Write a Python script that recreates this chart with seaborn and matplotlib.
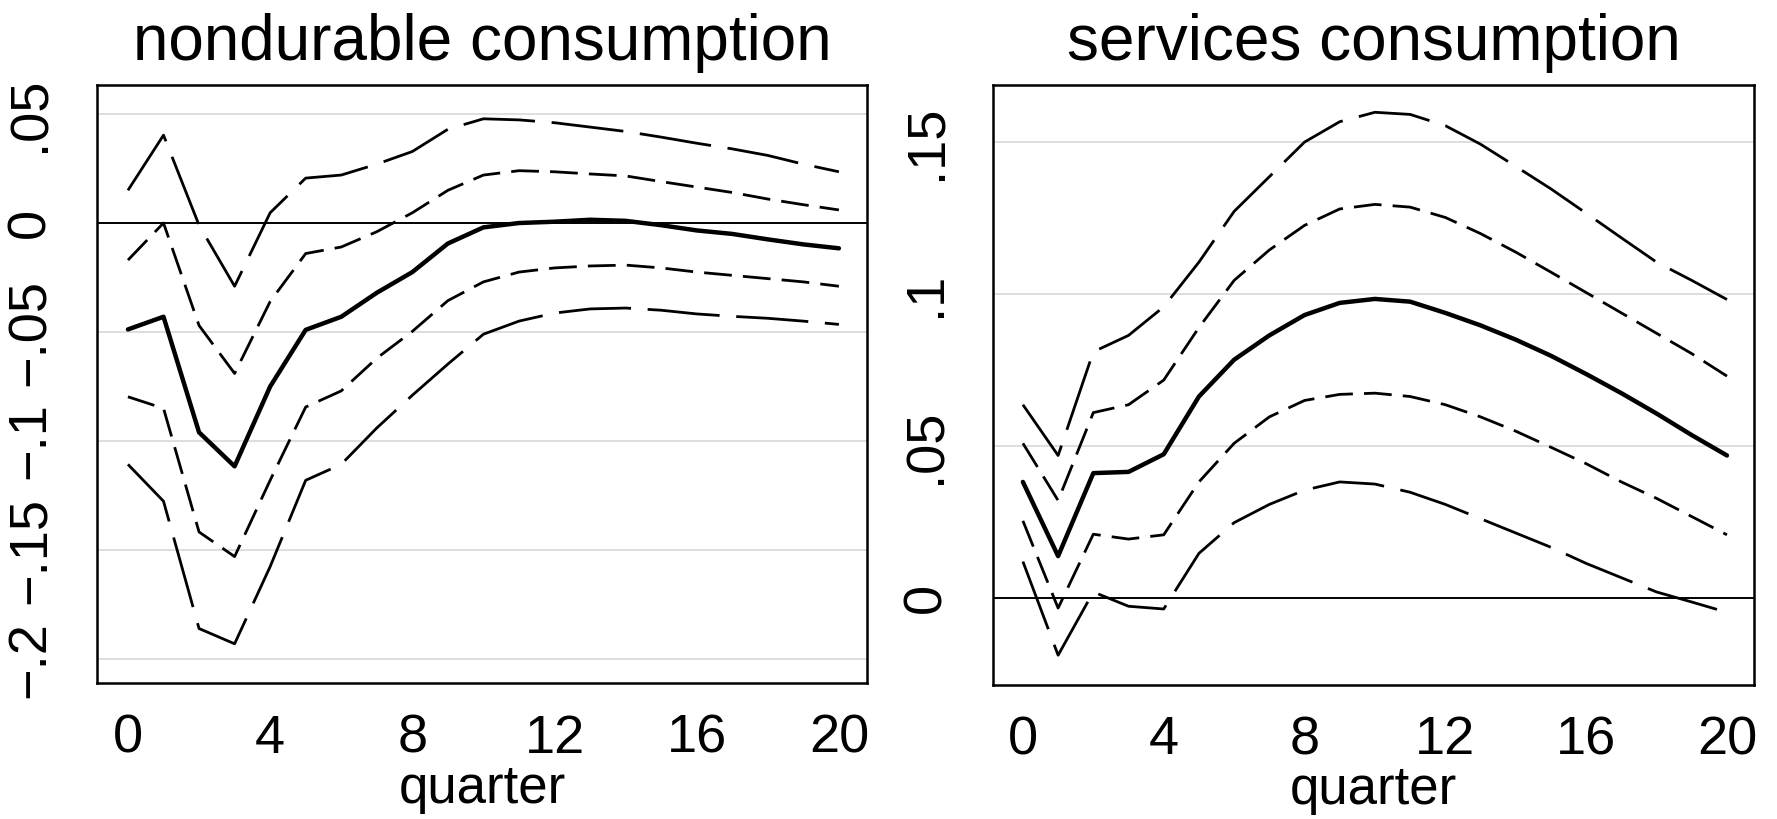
import numpy as np
import pandas as pd
import matplotlib
matplotlib.use("Agg")
import matplotlib.pyplot as plt
import seaborn as sns

sns.set_style("white")
plt.rcParams['font.family'] = ['Liberation Sans', 'DejaVu Sans']
plt.rcParams['text.color'] = 'black'
plt.rcParams['axes.labelcolor'] = 'black'
plt.rcParams['xtick.color'] = 'black'
plt.rcParams['ytick.color'] = 'black'

quarter = list(range(21))

# nondurable consumption: point estimate and two bands
nd_irf = [-0.0488, -0.043, -0.096, -0.1116, -0.075, -0.049, -0.043, -0.032, -0.0225, -0.0094,
          -0.002, 0.0, 0.0006, 0.0015, 0.001, -0.001, -0.0034, -0.005, -0.0075, -0.0098, -0.0116]
nd_in_hi = [-0.017, 0.0, -0.047, -0.069, -0.036, -0.014, -0.011, -0.004, 0.0047, 0.015,
            0.022, 0.024, 0.0235, 0.0225, 0.0216, 0.019, 0.0165, 0.014, 0.011, 0.0084, 0.006]
nd_in_lo = [-0.0797, -0.085, -0.1417, -0.153, -0.118, -0.0844, -0.077, -0.062, -0.0497, -0.0356,
            -0.027, -0.0225, -0.0206, -0.0197, -0.0193, -0.0206, -0.0225, -0.024, -0.0255, -0.027, -0.029]
nd_out_hi = [0.015, 0.0403, -0.001, -0.029, 0.0047, 0.0206, 0.022, 0.027, 0.0328, 0.043,
             0.0478, 0.0473, 0.046, 0.044, 0.042, 0.0394, 0.0366, 0.034, 0.031, 0.027, 0.0235]
nd_out_lo = [-0.1107, -0.1276, -0.186, -0.193, -0.1576, -0.118, -0.1107, -0.094, -0.079, -0.0647,
             -0.051, -0.045, -0.0413, -0.0394, -0.039, -0.040, -0.0417, -0.0428, -0.0437, -0.045, -0.0465]

# services consumption
sv_irf = [0.0382, 0.0138, 0.0411, 0.0415, 0.0473, 0.0663, 0.0784, 0.0864, 0.0931, 0.0971,
          0.0984, 0.0975, 0.0938, 0.0897, 0.085, 0.0797, 0.0737, 0.0674, 0.0607, 0.0536, 0.0469]
sv_in_hi = [0.0509, 0.0321, 0.061, 0.0636, 0.0717, 0.089, 0.1045, 0.1145, 0.1226, 0.128,
            0.1295, 0.1286, 0.1252, 0.1199, 0.1138, 0.1072, 0.1005, 0.0938, 0.0871, 0.0804, 0.073]
sv_in_lo = [0.0254, -0.0033, 0.021, 0.0194, 0.0208, 0.0382, 0.0509, 0.0596, 0.065, 0.067,
            0.0674, 0.0663, 0.0636, 0.0596, 0.0549, 0.0496, 0.0442, 0.0382, 0.0328, 0.0268, 0.0208]
sv_out_hi = [0.0636, 0.0469, 0.081, 0.0864, 0.0958, 0.1105, 0.1272, 0.1386, 0.15, 0.1567,
             0.1598, 0.1591, 0.1554, 0.1493, 0.142, 0.1346, 0.1266, 0.1185, 0.1105, 0.1045, 0.0982]
sv_out_lo = [0.012, -0.0188, 0.002, -0.0027, -0.0036, 0.0147, 0.0248, 0.0308, 0.0355, 0.0382,
             0.0375, 0.0348, 0.0308, 0.0261, 0.0214, 0.0167, 0.0114, 0.0067, 0.002, -0.0013, -0.0047]

nd_ticks = [-0.2, -0.15, -0.1, -0.05, 0, 0.05]
nd_labels = ["\u2212.2", "\u2212.15", "\u2212.1", "\u2212.05", "0", ".05"]
sv_ticks = [0, 0.05, 0.1, 0.15]
sv_labels = ["0", ".05", ".1", ".15"]
x_ticks = [0, 4, 8, 12, 16, 20]


def long_frame(irf, in_hi, in_lo, out_hi, out_lo):
    parts = []
    for name, vals in [("irf", irf), ("in_hi", in_hi), ("in_lo", in_lo),
                       ("out_hi", out_hi), ("out_lo", out_lo)]:
        parts.append(pd.DataFrame({"quarter": quarter, "value": vals, "band": name}))
    return pd.concat(parts, ignore_index=True)


dashes = {"irf": "", "in_hi": (10, 4), "in_lo": (10, 4), "out_hi": (26, 6), "out_lo": (26, 6)}
sizes = {"irf": 3.2, "in_hi": 2.0, "in_lo": 2.0, "out_hi": 2.0, "out_lo": 2.0}

fig = plt.figure(figsize=(17.77, 8.19), dpi=100)
ax1 = fig.add_axes([0.0546, 0.1660, 0.4333, 0.7302])
ax2 = fig.add_axes([0.5588, 0.1640, 0.4283, 0.7323])

panels = [
    (ax1, long_frame(nd_irf, nd_in_hi, nd_in_lo, nd_out_hi, nd_out_lo), "nondurable consumption",
     nd_ticks, nd_labels, (-0.211, 0.0633), (-0.87, 20.79)),
    (ax2, long_frame(sv_irf, sv_in_hi, sv_in_lo, sv_out_hi, sv_out_lo), "services consumption",
     sv_ticks, sv_labels, (-0.0285, 0.1688), (-0.85, 20.77)),
]

for ax, df, title, yt, yl, ylim, xlim in panels:
    for t in yt:
        if t != 0:
            ax.axhline(t, color="#dedede", lw=1.4, zorder=0)
    ax.axhline(0, color="black", lw=1.4, zorder=1)
    sns.lineplot(data=df, x="quarter", y="value", style="band", size="band",
                 dashes=dashes, sizes=sizes, color="black", legend=False,
                 estimator=None, ax=ax, zorder=2)
    ax.set_xlim(*xlim)
    ax.set_ylim(*ylim)
    ax.set_xticks(x_ticks)
    ax.set_xticklabels([str(t) for t in x_ticks], fontsize=39)
    ax.set_yticks(yt)
    ax.set_yticklabels(yl, fontsize=39, rotation=90, va="center")
    ax.tick_params(axis="both", direction="out", length=14, width=1.4, color="black")
    ax.tick_params(axis="x", pad=8)
    ax.tick_params(axis="y", pad=16)
    ax.set_xlabel("quarter", fontsize=38, labelpad=0)
    ax.set_ylabel("")
    ax.set_title(title, fontsize=46, pad=18)
    for s in ax.spines.values():
        s.set_color("black")
        s.set_linewidth(1.8)

fig.savefig("out.png", dpi=100)
